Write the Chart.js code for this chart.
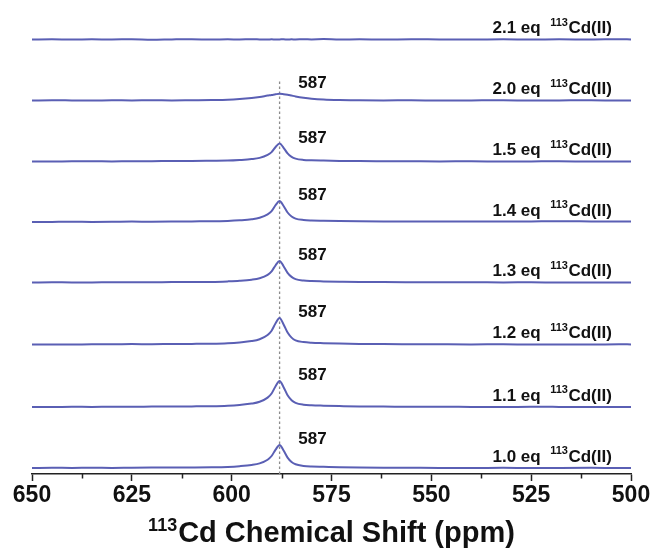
<!DOCTYPE html>
<html><head><meta charset="utf-8">
<script src="https://cdn.jsdelivr.net/npm/chart.js@4/dist/chart.umd.min.js"></script>
<style>html,body{margin:0;padding:0;background:#fff}#wrap{width:654px;height:549px}</style>
</head><body><div id="wrap"><canvas id="c" width="654" height="549"></canvas></div>
<script>
// chemical shift sample points (ppm)
const ppm = [650, 645, 640, 635, 630, 625, 620, 615, 610, 605, 601, 598, 595, 593, 591, 590, 589, 588, 587, 586, 585, 584, 582, 580, 577, 573, 568, 562, 555, 548, 540, 532, 525, 518, 510, 503, 500];
// trace labels (equivalents of 113Cd(II)), bottom to top
const eqLabels = ['1.0', '1.1', '1.2', '1.3', '1.4', '1.5', '2.0', '2.1'];
// vertical stacking offsets of each trace (intensity units)
const offsets = [0, 61, 123.5, 185.5, 246, 306.5, 367.5, 428.5];
// peak heights and annotation
const peakHeights = [23, 26, 26.5, 21.5, 21, 18, 6.7, 0];
const peakLabel = '587';
const peakPpm = 588;
// intensities
const s10 = [0.0, 0.2, 0.1, 0.3, 0.1, 0.3, 0.4, 0.4, 0.5, 0.7, 1.1, 1.8, 3.0, 4.6, 8.3, 12.0, 18.4, 23.0, 17.5, 10.4, 6.0, 3.7, 2.1, 1.5, 1.2, 0.8, 0.5, 0.3, 0.2, 0.1, 0.0, 0.2, -0.1, 0.1, 0.2, 0.0, 0.1];
const s11 = [0.1, 0.0, 0.2, 0.1, 0.3, 0.2, 0.4, 0.5, 0.6, 0.8, 1.3, 2.1, 3.4, 5.2, 9.4, 13.5, 20.8, 26.0, 19.8, 11.7, 6.8, 4.2, 2.3, 1.7, 1.3, 0.9, 0.5, 0.4, 0.2, 0.3, 0.1, 0.0, 0.2, 0.1, -0.1, 0.1, 0.0];
const s12 = [0.0, 0.1, 0.0, 0.2, 0.2, 0.4, 0.3, 0.5, 0.6, 0.8, 1.3, 2.1, 3.4, 5.3, 9.5, 13.8, 21.2, 26.5, 20.1, 11.9, 6.9, 4.2, 2.4, 1.7, 1.3, 0.9, 0.6, 0.4, 0.3, 0.2, 0.1, 0.2, 0.0, 0.1, 0.0, 0.2, 0.1];
const s13 = [0.0, 0.2, 0.1, 0.1, 0.3, 0.2, 0.3, 0.4, 0.5, 0.6, 1.1, 1.7, 2.8, 4.3, 7.7, 11.2, 17.2, 21.5, 16.3, 9.7, 5.6, 3.4, 1.9, 1.4, 1.1, 0.8, 0.5, 0.4, 0.3, 0.2, 0.3, 0.1, 0.2, 0.0, 0.1, 0.0, 0.1];
const s14 = [0.0, 0.1, 0.2, 0.1, 0.2, 0.4, 0.3, 0.4, 0.6, 0.7, 1.1, 1.7, 2.7, 4.2, 7.6, 10.9, 16.8, 21.0, 16.0, 9.5, 5.5, 3.4, 2.0, 1.5, 1.2, 0.9, 0.7, 0.6, 0.6, 0.5, 0.6, 0.5, 0.6, 0.7, 0.6, 0.5, 0.6];
const s15 = [0.1, 0.0, 0.2, 0.2, 0.1, 0.3, 0.3, 0.5, 0.5, 0.7, 0.9, 1.5, 2.4, 3.6, 6.6, 9.4, 14.5, 18.0, 13.7, 8.1, 4.7, 2.9, 1.6, 1.2, 0.9, 0.6, 0.4, 0.3, 0.2, 0.1, 0.2, 0.0, 0.1, 0.2, 0.0, 0.1, 0.0];
const s20 = [0.0, 0.2, 0.1, 0.0, 0.2, 0.1, 0.2, 0.1, 0.3, 0.5, 0.8, 1.5, 2.6, 3.6, 4.9, 5.5, 6.2, 6.7, 6.3, 5.7, 4.9, 4.1, 2.8, 1.8, 0.9, 0.4, 0.2, 0.1, 0.2, 0.0, 0.1, 0.2, 0.0, 0.1, 0.2, 0.0, 0.1];
const s21 = [0.0, 0.3, -0.1, 0.2, 0.0, 0.3, -0.2, 0.1, 0.3, -0.1, 0.2, 0.0, 0.3, 0.1, -0.1, 0.2, 0.0, 0.1, 0.3, -0.1, 0.2, 0.0, 0.3, 0.1, 0.4, 0.0, 0.2, -0.1, 0.3, 0.1, 0.0, 0.2, -0.1, 0.2, 0.0, 0.3, 0.1];
const series = [s10, s11, s12, s13, s14, s15, s20, s21];
// axis ticks
const xTicks = [650, 625, 600, 575, 550, 525, 500];
const xMinorTicks = [637.5, 612.5, 587.5, 562.5, 537.5, 512.5];

const LINE = '#5a5fb4';
const FONT = "'Liberation Sans', Arial, sans-serif";

const datasets = series.map((s, i) => ({
  label: eqLabels[i] + ' eq',
  data: ppm.map((p, j) => ({ x: p, y: offsets[i] + s[j] })),
  borderColor: LINE,
  borderWidth: 2,
  pointRadius: 0,
  cubicInterpolationMode: 'monotone',
  fill: false,
  clip: false
}));
datasets.push({
  label: 'marker',
  data: [{ x: peakPpm, y: -6 }, { x: peakPpm, y: offsets[6] + peakHeights[6] + 14 }],
  borderColor: '#8c8c8c',
  borderWidth: 1.3,
  borderDash: [2.5, 2.5],
  pointRadius: 0,
  fill: false
});

const annotate = {
  id: 'annotate',
  afterDatasetsDraw(chart) {
    const ctx = chart.ctx, xs = chart.scales.x, ys = chart.scales.y;
    ctx.save();
    ctx.fillStyle = '#111';
    ctx.textBaseline = 'alphabetic';
    eqLabels.forEach((lab, i) => {
      const xr = xs.getPixelForValue(504.8);
      const yb = ys.getPixelForValue(offsets[i] + 6.5);
      ctx.font = 'bold 17px ' + FONT;
      ctx.textAlign = 'right';
      ctx.fillText('Cd(II)', xr, yb);
      const w1 = ctx.measureText('Cd(II)').width;
      ctx.font = 'bold 11px ' + FONT;
      ctx.fillText('113', xr - w1 - 0.5, yb - 7.5);
      const w2 = ctx.measureText('113').width;
      ctx.font = 'bold 17px ' + FONT;
      ctx.fillText(lab + ' eq', xr - w1 - w2 - 10, yb);
      if (peakHeights[i] > 0) {
        ctx.font = 'bold 17px ' + FONT;
        ctx.textAlign = 'left';
        ctx.fillText(peakLabel, xs.getPixelForValue(583.3), ys.getPixelForValue(offsets[i] + Math.max(peakHeights[i], 12) + 1));
      }
    });
    ctx.restore();
  },
  afterDraw(chart) {
    const ctx = chart.ctx, xs = chart.scales.x, area = chart.chartArea;
    ctx.save();
    ctx.strokeStyle = '#222';
    ctx.lineWidth = 1.5;
    xMinorTicks.forEach(v => {
      const x = Math.round(xs.getPixelForValue(v)) + 0.5;
      ctx.beginPath();
      ctx.moveTo(x, area.bottom);
      ctx.lineTo(x, area.bottom + 4.5);
      ctx.stroke();
    });
    // axis title with superscript
    const cx = (area.left + area.right) / 2;
    const yb = 542;
    ctx.fillStyle = '#111';
    ctx.textBaseline = 'alphabetic';
    ctx.font = 'bold 29px ' + FONT;
    const main = 'Cd Chemical Shift (ppm)';
    const wm = ctx.measureText(main).width;
    ctx.font = 'bold 18px ' + FONT;
    const ws = ctx.measureText('113').width;
    const start = cx - (wm + ws + 1) / 2;
    ctx.textAlign = 'left';
    ctx.fillText('113', start, yb - 11);
    ctx.font = 'bold 29px ' + FONT;
    ctx.fillText(main, start + ws + 1, yb);
    ctx.restore();
  }
};

new Chart(document.getElementById('c'), {
  type: 'line',
  data: { datasets },
  options: {
    responsive: false,
    animation: false,
    devicePixelRatio: 1,
    layout: { padding: { top: 10, left: 32, right: 23, bottom: 0 } },
    plugins: { legend: { display: false }, tooltip: { enabled: false }, title: { display: false } },
    scales: {
      x: {
        type: 'linear',
        reverse: true,
        min: 500,
        max: 650,
        afterFit(s) { s.height = 75; },
        afterBuildTicks(s) { s.ticks = xTicks.map(v => ({ value: v })); },
        border: { display: true, color: '#222', width: 1.5 },
        grid: { drawOnChartArea: false, drawTicks: true, tickLength: 7, tickColor: '#222', tickWidth: 1.5 },
        ticks: { font: { family: FONT, weight: 'bold', size: 23 }, color: '#111', padding: 1, maxRotation: 0, autoSkip: false }
      },
      y: { display: false, min: -6, max: 458 }
    }
  },
  plugins: [annotate]
});
</script>
</body></html>
